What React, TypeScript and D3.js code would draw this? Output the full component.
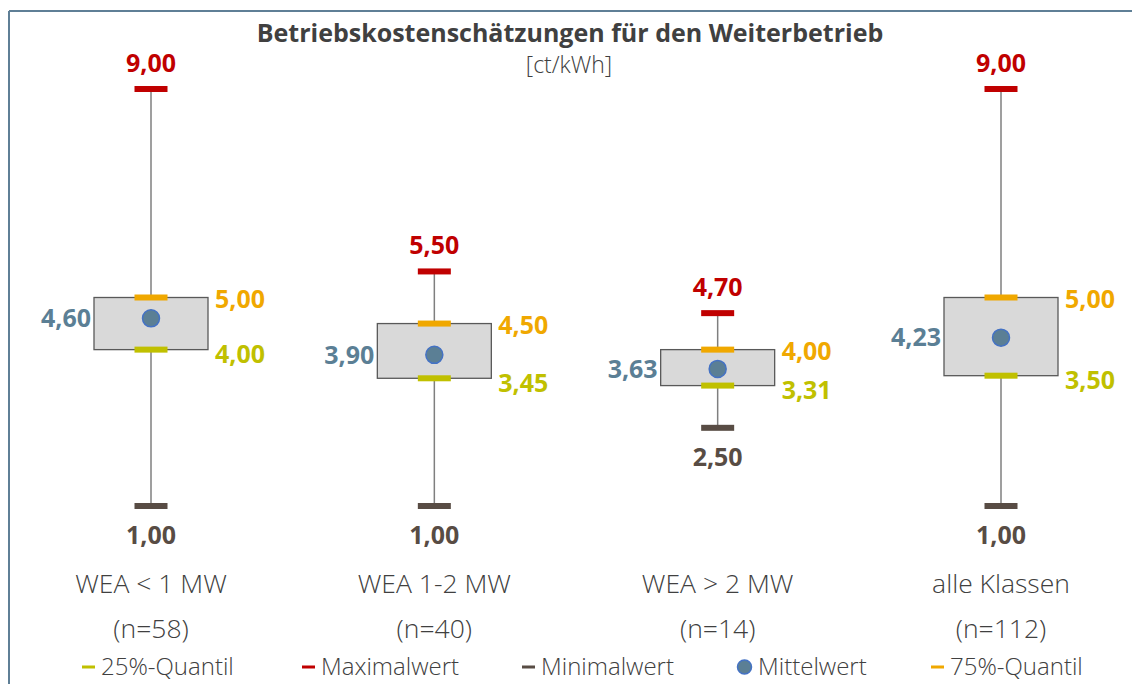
import React from 'react'
import * as d3 from 'd3'

const categories = ['WEA < 1 MW', 'WEA 1-2 MW', 'WEA > 2 MW', 'alle Klassen']
const counts = ['(n=58)', '(n=40)', '(n=14)', '(n=112)']
const maxValues = [9.0, 5.5, 4.7, 9.0]
const q75Values = [5.0, 4.5, 4.0, 5.0]
const meanValues = [4.6, 3.9, 3.63, 4.23]
const q25Values = [4.0, 3.45, 3.31, 3.5]
const minValues = [1.0, 1.0, 2.5, 1.0]

const legendItems = [
  { label: '25%-Quantil', kind: 'q25' },
  { label: 'Maximalwert', kind: 'max' },
  { label: 'Minimalwert', kind: 'min' },
  { label: 'Mittelwert', kind: 'mean' },
  { label: '75%-Quantil', kind: 'q75' }
]

const colors = {
  max: '#c00000',
  min: '#584c44',
  q75: '#f0a800',
  q25: '#c0c000',
  mean: '#5b7f95',
  meanStroke: '#4472c4',
  text: '#404040',
  border: '#5f7f96'
}

const W = 1132
const H = 684
const font = "'Open Sans', 'Noto Sans', sans-serif"
const fmt = (v: number) => v.toFixed(2).replace('.', ',')

export default function App () {
  const x = d3.scalePoint<string>()
    .domain(categories)
    .range([151, 1001])

  const y = d3.scaleLinear()
    .domain([1, 9])
    .range([506, 89])

  const boxW = 114
  const barW = 33
  const barH = 6
  const valSize = 25

  const legendX = d3.scaleOrdinal<string, number>()
    .domain(legendItems.map(d => d.kind))
    .range([82, 302, 522, 737, 931])

  return (
    <svg width={W} height={H} style={{ position: 'absolute', left: 0, top: 0, fontFamily: font }}>
      <rect x={0} y={0} width={W} height={H} fill='#fff' />
      <line x1={9} y1={11} x2={W} y2={11} stroke={colors.border} strokeWidth={2} />
      <line x1={9} y1={11} x2={9} y2={H} stroke={colors.border} strokeWidth={2} />

      <text x={570} y={42} textAnchor='middle' fontSize={25} fontWeight='bold' fill={colors.text}>
        Betriebskostenschätzungen für den Weiterbetrieb
      </text>
      <text x={569} y={73} textAnchor='middle' fontSize={23} fontWeight={300} fill={colors.text}>[ct/kWh]</text>

      {categories.map((c, i) => {
        const cx = x(c) as number
        const yMax = y(maxValues[i])
        const yMin = y(minValues[i])
        const y75 = y(q75Values[i])
        const y25 = y(q25Values[i])
        const yMean = y(meanValues[i])
        return (
          <g key={c}>
            <line x1={cx} x2={cx} y1={yMax} y2={yMin} stroke='#7f7f7f' strokeWidth={1.5} />
            <rect x={cx - boxW / 2} y={y75} width={boxW} height={y25 - y75}
              fill='#d9d9d9' stroke='#595959' strokeWidth={1.3} />
            <rect x={cx - barW / 2} y={yMax - barH / 2} width={barW} height={barH} fill={colors.max} />
            <rect x={cx - barW / 2} y={yMin - barH / 2} width={barW} height={barH} fill={colors.min} />
            <rect x={cx - barW / 2} y={y75 - barH / 2} width={barW} height={barH} fill={colors.q75} />
            <rect x={cx - barW / 2} y={y25 - barH / 2} width={barW} height={barH} fill={colors.q25} />
            <circle cx={cx} cy={yMean} r={8.5} fill={colors.mean} stroke={colors.meanStroke} strokeWidth={1.5} />

            <text x={cx} y={yMax - 17} textAnchor='middle' fontSize={valSize} fontWeight='bold' fill={colors.max}>
              {fmt(maxValues[i])}
            </text>
            <text x={cx} y={yMin + 38} textAnchor='middle' fontSize={valSize} fontWeight='bold' fill={colors.min}>
              {fmt(minValues[i])}
            </text>
            <text x={cx + boxW / 2 + 7} y={y75 + 2} dy='0.35em' fontSize={valSize} fontWeight='bold' fill={colors.q75}>
              {fmt(q75Values[i])}
            </text>
            <text x={cx + boxW / 2 + 7} y={y25 + 5} dy='0.35em' fontSize={valSize} fontWeight='bold' fill={colors.q25}>
              {fmt(q25Values[i])}
            </text>
            <text x={cx - boxW / 2 - 3} y={yMean} dy='0.35em' textAnchor='end' fontSize={valSize} fontWeight='bold' fill={colors.mean}>
              {fmt(meanValues[i])}
            </text>

            <text x={cx} y={584} dy='0.35em' textAnchor='middle' fontSize={26.5} fontWeight={300} fill={colors.text}>{c}</text>
            <text x={cx} y={629} dy='0.35em' textAnchor='middle' fontSize={26.5} fontWeight={300} fill={colors.text}>{counts[i]}</text>
          </g>
        )
      })}

      {legendItems.map(item => {
        const lx = legendX(item.kind)
        const ly = 667
        return (
          <g key={item.kind}>
            {item.kind === 'mean'
              ? <circle cx={lx + 7.5} cy={ly} r={7} fill={colors.mean} stroke={colors.meanStroke} strokeWidth={1.5} />
              : <rect x={lx} y={ly - 1.5} width={13} height={3} fill={(colors as any)[item.kind]} />}
            <text x={lx + (item.kind === 'mean' ? 21 : 19)} y={ly} dy='0.35em' fontSize={24} fontWeight={300} fill={colors.text}>
              {item.label}
            </text>
          </g>
        )
      })}
    </svg>
  )
}
